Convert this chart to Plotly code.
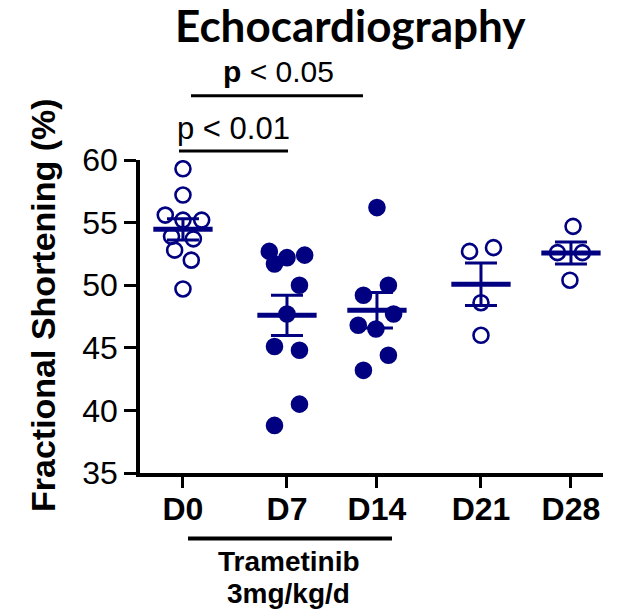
import numpy as np
import plotly.graph_objects as go

# Time points and fractional shortening (%) per animal
days = ["D0", "D7", "D14", "D21", "D28"]
fs_d0 = [59.3, 57.2, 55.6, 55.2, 55.2, 53.9, 53.7, 52.8, 52.0, 49.7]
fs_d7 = [52.7, 51.7, 52.2, 52.4, 50.0, 47.7, 45.1, 44.8, 40.5, 38.8]
fs_d14 = [56.2, 50.0, 49.2, 47.7, 46.8, 46.5, 44.4, 43.2]
fs_d21 = [52.7, 53.0, 48.6, 46.0]
fs_d28 = [54.7, 52.6, 52.6, 50.4]
y_ticks = [35, 40, 45, 50, 55, 60]

# Horizontal scatter of the dots within each column (x-axis units)
spread_d0 = [0, 0, -0.17, 0, 0.18, -0.11, 0.10, -0.08, 0.08, 0]
spread_d7 = [-0.17, -0.12, 0, 0.17, 0.12, 0, -0.12, 0.12, 0.12, -0.12]
spread_d14 = [0, 0.11, -0.13, 0.16, -0.18, -0.01, 0.11, -0.13]
spread_d21 = [-0.11, 0.12, 0, 0]
spread_d28 = [0.02, -0.13, 0.11, -0.01]

groups = [fs_d0, fs_d7, fs_d14, fs_d21, fs_d28]
spreads = [spread_d0, spread_d7, spread_d14, spread_d21, spread_d28]
filled = [False, True, True, False, False]
col_x = [0.0, 1.0, 1.865, 2.865, 3.73]

NAVY = "#000080"
ARIAL = "Liberation Sans"

fig = go.Figure()

# individual animals
for vals, dx, pos, solid in zip(groups, spreads, col_x, filled):
    fig.add_trace(go.Scatter(
        x=[pos + d for d in dx], y=vals, mode="markers",
        marker=dict(
            symbol="circle" if solid else "circle-open",
            size=15,
            color=NAVY,
            line=dict(width=2.6, color=NAVY),
        ),
        showlegend=False, hoverinfo="y",
    ))

# mean +/- SEM
means = [float(np.mean(v)) for v in groups]
sems = [float(np.std(v, ddof=1) / np.sqrt(len(v))) for v in groups]

fig.add_trace(go.Scatter(
    x=col_x, y=means, mode="markers",
    marker=dict(size=1, color="rgba(0,0,0,0)"),
    error_y=dict(type="data", array=sems, visible=True,
                 color=NAVY, thickness=3, width=16),
    showlegend=False, hoverinfo="skip",
))

half = 0.285
mx, my = [], []
for pos, m in zip(col_x, means):
    mx += [pos - half, pos + half, None]
    my += [m, m, None]
fig.add_trace(go.Scatter(
    x=mx, y=my, mode="lines", line=dict(color=NAVY, width=5),
    showlegend=False, hoverinfo="skip",
))

annotations = [
    dict(text="Echocardiography", x=0.4557, y=1.43, xref="paper", yref="paper",
         showarrow=False, xanchor="center", yanchor="middle",
         font=dict(family="Lato", size=44, color="black", weight="bold")),
    dict(text="<b>p</b> < 0.05", x=0.2991, y=1.2812, xref="paper", yref="paper",
         showarrow=False, xanchor="center", yanchor="middle",
         font=dict(family=ARIAL, size=30, color="black")),
    dict(text="p < 0.01", x=0.2019, y=1.1022, xref="paper", yref="paper",
         showarrow=False, xanchor="center", yanchor="middle",
         font=dict(family=ARIAL, size=31, color="black")),
    dict(text="Trametinib", x=0.3218, y=-0.2812, xref="paper", yref="paper",
         showarrow=False, xanchor="center", yanchor="middle",
         font=dict(family=ARIAL, size=28, color="black", weight="bold")),
    dict(text="3mg/kg/d", x=0.3197, y=-0.3834, xref="paper", yref="paper",
         showarrow=False, xanchor="center", yanchor="middle",
         font=dict(family=ARIAL, size=28, color="black", weight="bold")),
    dict(text="Fractional Shortening (%)", x=-0.2095, y=0.5367,
         xref="paper", yref="paper", textangle=-90,
         showarrow=False, xanchor="center", yanchor="middle",
         font=dict(family=ARIAL, size=34, color="black", weight="bold")),
]

shapes = [
    dict(type="line", xref="paper", yref="paper", x0=0.1102, x1=0.4816,
         y0=1.2054, y1=1.2054, line=dict(color="black", width=3)),
    dict(type="line", xref="paper", yref="paper", x0=0.0842, x1=0.3197,
         y0=1.0288, y1=1.0288, line=dict(color="black", width=3)),
    dict(type="line", xref="paper", yref="paper", x0=0.1037, x1=0.5443,
         y0=-0.2093, y1=-0.2093, line=dict(color="black", width=4)),
]

fig.update_layout(
    width=623, height=616,
    margin=dict(l=140, r=20, t=160, b=143),
    paper_bgcolor="white", plot_bgcolor="white",
    showlegend=False,
    annotations=annotations,
    shapes=shapes,
    xaxis=dict(
        range=[-0.413, 4.038], tickmode="array", tickvals=col_x, ticktext=days,
        showline=True, linecolor="black", linewidth=3.5,
        ticks="outside", ticklen=11, tickwidth=3, tickcolor="black",
        ticklabelstandoff=-6,
        showgrid=False, zeroline=False,
        tickfont=dict(family=ARIAL, size=32, color="black", weight="bold"),
    ),
    yaxis=dict(
        range=[35, 60], tickmode="array", tickvals=y_ticks,
        showline=True, linecolor="black", linewidth=3.5,
        ticks="outside", ticklen=12, tickwidth=3, tickcolor="black",
        showgrid=False, zeroline=False,
        tickfont=dict(family=ARIAL, size=32, color="black"),
    ),
)

fig.write_html("out.html")
